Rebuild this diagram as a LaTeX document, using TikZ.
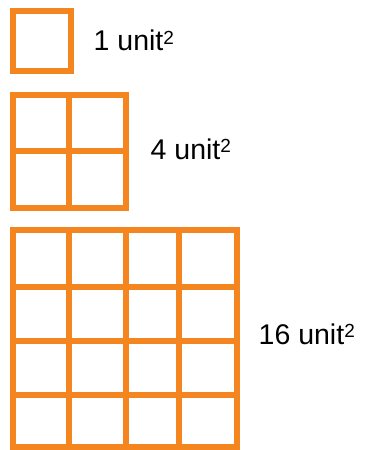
\documentclass[tikz,border=0pt]{standalone}
\usepackage{fontspec}
\setmainfont{Liberation Sans}
\usetikzlibrary{positioning}
\definecolor{gridorange}{HTML}{F5851F}
\newcommand{\unitsq}{unit\raisebox{6.5pt}{\fontsize{19}{21}\selectfont 2}}

\begin{document}
\begin{tikzpicture}[x=1pt, y=-1pt,
  cell/.style={draw=gridorange, line width=6pt},
  area/.style={anchor=base west, inner sep=0pt,
               font=\fontsize{28.5}{34}\selectfont},
  ]
  \useasboundingbox (0,0) rectangle (367,450);
  % one square
  \draw[cell] (12.5,11) rectangle (71,71);
  \node[area] (one) at (93.5,50.7) {1 \unitsq};
  % two by two
  \draw[cell] (12.5,94.5) rectangle (126,208);
  \draw[cell] (69,94.5) -- (69,208);
  \draw[cell] (12.5,151) -- (126,151);
  \node[area] (four) at (150.5,159.3) {4 \unitsq};
  % four by four
  \draw[cell] (12.5,230.3) rectangle (236.5,447);
  \foreach \x in {69,126,179.3}
    \draw[cell] (\x,230.3) -- (\x,447);
  \foreach \y in {286.7,340.8,395}
    \draw[cell] (12.5,\y) -- (236.5,\y);
  \node[area] (sixteen) at (258.5,344.3) {16 \unitsq};
\end{tikzpicture}
\end{document}
